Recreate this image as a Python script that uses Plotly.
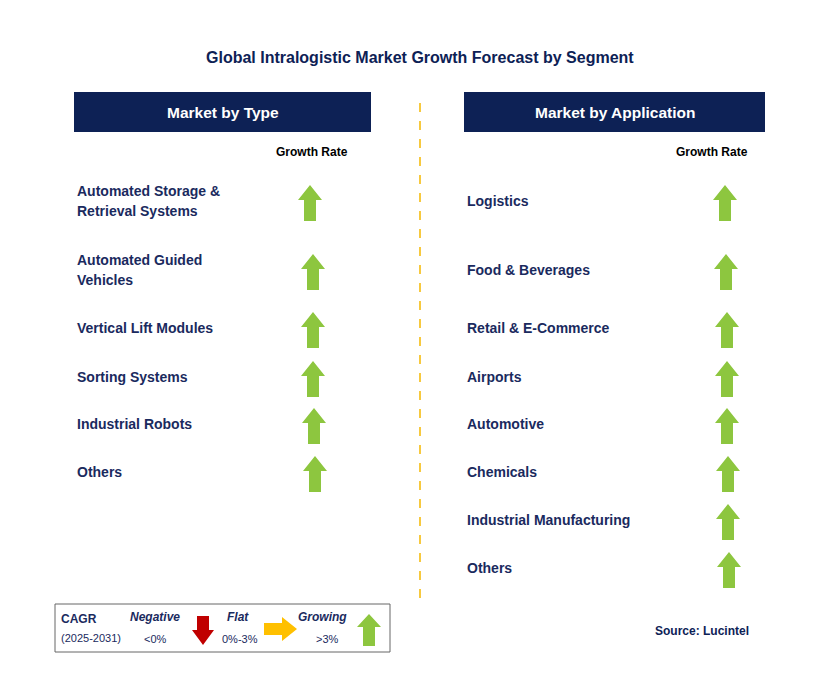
import plotly.graph_objects as go

title = "Global Intralogistic Market Growth Forecast by Segment"
type_segments = ["Automated Storage &<br>Retrieval Systems", "Automated Guided<br>Vehicles",
                 "Vertical Lift Modules", "Sorting Systems", "Industrial Robots", "Others"]
type_growth = ["Growing"] * 6
app_segments = ["Logistics", "Food & Beverages", "Retail & E-Commerce", "Airports",
                "Automotive", "Chemicals", "Industrial Manufacturing", "Others"]
app_growth = ["Growing"] * 8

NAVY = "#0d2155"
TXT = "#1a2a5e"
GREEN = "#8dc63f"
FONT = "Liberation Sans, Arial"

type_y = [201, 270, 328, 377, 424, 472]
type_ax = [310, 313, 313, 313, 314, 315]
app_y = [201, 270, 328, 377, 424, 472, 520, 568]
app_ax = [725, 726, 727, 727, 727, 728, 728, 729]

fig = go.Figure(go.Scatter(x=[0, 829], y=[0, 679], mode="markers", marker=dict(opacity=0), hoverinfo="skip"))
shapes, ann = [], []

def up_arrow(cx, cy, color=GREEN, h=36, hw=12, sw=6, hh=15):
    top, bot = cy - h / 2, cy + h / 2
    p = (f"M{cx},{top} L{cx+hw},{top+hh} L{cx+sw},{top+hh} L{cx+sw},{bot} "
         f"L{cx-sw},{bot} L{cx-sw},{top+hh} L{cx-hw},{top+hh} Z")
    shapes.append(dict(type="path", path=p, fillcolor=color, line=dict(width=0), layer="above"))

def text(x, y, s, size=11, color=TXT, bold=True, anchor="left", italic=False):
    if bold: s = f"<b>{s}</b>"
    if italic: s = f"<i>{s}</i>"
    ann.append(dict(x=x, y=y, text=s, showarrow=False, xanchor=anchor, yanchor="middle",
                    font=dict(size=size, color=color, family=FONT), align="left"))

text(420, 57, title, size=16, color=NAVY, anchor="center")
for x0, x1, lab in [(74, 371, "Market by Type"), (464, 765, "Market by Application")]:
    shapes.append(dict(type="rect", x0=x0, x1=x1, y0=92, y1=132, fillcolor=NAVY, line=dict(width=0)))
    text((x0 + x1) / 2, 112, lab, size=15.5, color="white", anchor="center")
text(312, 152, "Growth Rate", size=12, color="black", anchor="center")
text(712, 152, "Growth Rate", size=12, color="black", anchor="center")
shapes.append(dict(type="line", x0=420, x1=420, y0=103, y1=598, line=dict(color="#f5b800", width=1.5, dash="dash")))

for s, g, y, ax in zip(type_segments, type_growth, type_y, type_ax):
    lines = s.split("<br>")
    if len(lines) == 2:
        text(75, y - 10, lines[0], size=14)
        text(75, y + 10, lines[1], size=14)
    else:
        text(75, y, s, size=14)
    up_arrow(ax, y + 2)
for s, g, y, ax in zip(app_segments, app_growth, app_y, app_ax):
    text(465, y, s, size=14)
    up_arrow(ax, y + 2)

# legend
shapes.append(dict(type="rect", x0=55, x1=390, y0=604, y1=652, fillcolor="white", line=dict(color="#666", width=1)))
text(59, 619, "CAGR", size=12, color=TXT)
text(59, 638, "(2025-2031)", size=11, color=TXT, bold=False)
text(155, 617, "Negative", size=12, color=TXT, italic=True, anchor="center")
text(155, 639, "<0%", size=11, color=TXT, bold=False, anchor="center")
shapes.append(dict(type="path", path="M197,616 L209,616 L209,630 L214,630 L203,645 L192,630 L197,630 Z",
                   fillcolor="#c00000", line=dict(width=0)))
text(238, 617, "Flat", size=12, color=TXT, italic=True, anchor="center")
text(240, 639, "0%-3%", size=11, color=TXT, bold=False, anchor="center")
shapes.append(dict(type="path", path="M264,623 L282,623 L282,617 L297,629 L282,641 L282,635 L264,635 Z",
                   fillcolor="#ffc000", line=dict(width=0)))
text(322, 617, "Growing", size=12, color=TXT, italic=True, anchor="center")
text(327, 639, ">3%", size=11, color=TXT, bold=False, anchor="center")
up_arrow(369, 630, h=32, hw=12, sw=6, hh=13)
text(751, 631, "Source: Lucintel", size=12, color=NAVY, anchor="right")

OFF = 8
fig.update_layout(width=829, height=679, margin=dict(l=0, r=0, t=0, b=0),
                  plot_bgcolor="white", paper_bgcolor="white", showlegend=False,
                  shapes=shapes, annotations=ann,
                  xaxis=dict(range=[OFF, 829 + OFF], visible=False, fixedrange=True),
                  yaxis=dict(range=[679 + OFF, OFF], visible=False, fixedrange=True))
fig.write_html("out.html", config={"displayModeBar": False})
